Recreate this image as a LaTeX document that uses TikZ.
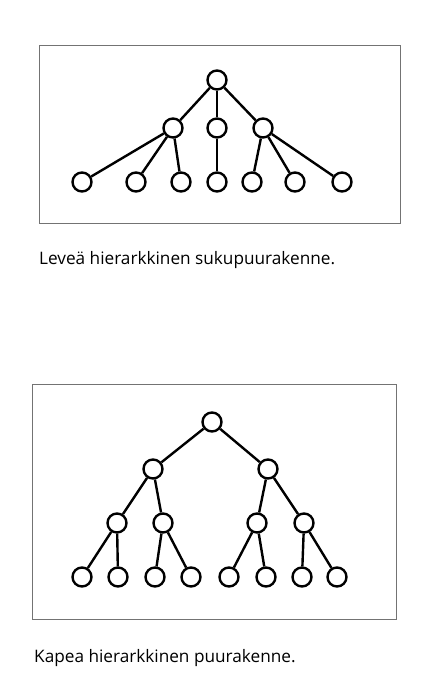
\documentclass[tikz,border=0pt]{standalone}
\usepackage{fontspec}
\setmainfont{Open Sans}
\begin{document}
\begin{tikzpicture}[x=1pt,y=-1pt,
  vx/.style={circle,draw,line width=2.4pt,fill=white,minimum size=19pt,inner sep=0pt},
  edge/.style={line width=2.4pt},
  frame/.style={draw=black!55,line width=1pt},
  caption/.style={anchor=base west,inner sep=0pt,font=\fontsize{17.2}{20}\selectfont}]
\useasboundingbox (0,0) rectangle (433,673);

% wide tree
\draw[frame] (39,45) rectangle (400,223);
\node[vx] (a) at (217,80) {};
\node[vx] (b1) at (173,128) {};
\node[vx] (b2) at (217,128) {};
\node[vx] (b3) at (263,128) {};
\foreach \i/\x in {1/82,2/136,3/181,4/217,5/252,6/295,7/342}
  \node[vx] (c\i) at (\x,182) {};
\foreach \p/\q in {a/b1,a/b2,a/b3,b1/c1,b1/c2,b1/c3,b2/c4,b3/c5,b3/c6,b3/c7}
  \draw[edge] (\p) -- (\q);
\node[caption] (t1) at (39,264) {Leveä hierarkkinen sukupuurakenne.};

% narrow tree
\draw[frame] (32,384) rectangle (396,619);
\node[vx] (r) at (212,422) {};
\node[vx] (m1) at (153,469) {};
\node[vx] (m2) at (268,469) {};
\foreach \i/\x in {1/117,2/163,3/257,4/304}
  \node[vx] (n\i) at (\x,523) {};
\foreach \i/\x in {1/82,2/118,3/155,4/191,5/229,6/266,7/302,8/337}
  \node[vx] (l\i) at (\x,577) {};
\foreach \p/\q in {r/m1,r/m2,m1/n1,m1/n2,m2/n3,m2/n4,n1/l1,n1/l2,n2/l3,n2/l4,n3/l5,n3/l6,n4/l7,n4/l8}
  \draw[edge] (\p) -- (\q);
\node[caption] (t2) at (34,662) {Kapea hierarkkinen puurakenne.};
\end{tikzpicture}
\end{document}
